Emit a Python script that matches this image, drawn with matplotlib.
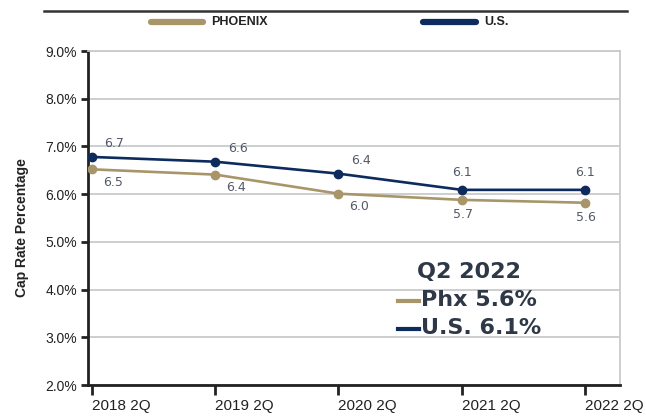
import matplotlib.pyplot as plt
from matplotlib.lines import Line2D
from matplotlib.ticker import FuncFormatter

# Cap rates (%)
periods = ["2018 2Q", "2019 2Q", "2020 2Q", "2021 2Q", "2022 2Q"]
phoenix = [6.52, 6.41, 6.01, 5.88, 5.82]
us = [6.78, 6.68, 6.43, 6.09, 6.09]
phoenix_labels = ["6.5", "6.4", "6.0", "5.7", "5.6"]
us_labels = ["6.7", "6.6", "6.4", "6.1", "6.1"]

tan = "#a8966a"
navy = "#0d2b5c"
lblc = "#535a66"

plt.rcParams['font.family'] = ['Liberation Sans', 'DejaVu Sans']

fig = plt.figure(figsize=(6.46, 4.16), dpi=100)
ax = fig.add_axes([0.1362, 0.0745, 0.8235, 0.8029])

x = list(range(len(periods)))
ax.plot(x, phoenix, color=tan, lw=1.9, marker="o", ms=6, zorder=3)
ax.plot(x, us, color=navy, lw=1.9, marker="o", ms=6, zorder=4)

for i in x:
    if i < 3:
        off_us, ha_us = (9, 5), "left"
        off_ph, ha_ph = (8, -14), "left"
    else:
        off_us, ha_us = (0, 8), "center"
        off_ph, ha_ph = (1, -15), "center"
    ax.annotate(us_labels[i], (i, us[i]), xytext=off_us, textcoords="offset points",
                ha=ha_us, va="bottom", fontsize=9, color=lblc, family="DejaVu Sans")
    ax.annotate(phoenix_labels[i], (i, phoenix[i]), xytext=off_ph, textcoords="offset points",
                ha=ha_ph, va="bottom", fontsize=9, color=lblc, family="DejaVu Sans")

ax.set_xlim(-0.032, 4.284)
ax.set_ylim(2, 9)
ax.set_yticks(range(2, 10))
ax.yaxis.set_major_formatter(FuncFormatter(lambda v, p: f"{v:.1f}%"))
ax.set_xticks(x)
ax.set_xticklabels(periods, ha="left")

ax.tick_params(axis="y", length=5, width=2, direction="out", labelsize=10, colors="#222222", pad=3)
ax.tick_params(axis="x", length=7, width=2, direction="out", labelsize=11, colors="#222222", pad=3)

ax.grid(axis="y", color="#c8cacd", lw=1.3)
ax.set_axisbelow(True)
for s in ["left", "bottom"]:
    ax.spines[s].set_color("#222222")
    ax.spines[s].set_linewidth(2)
for s in ["top", "right"]:
    ax.spines[s].set_color("#c8cacd")
    ax.spines[s].set_linewidth(1.3)

fig.text(22 / 646, 1 - 228 / 416, "Cap Rate Percentage", rotation=90, ha="center", va="center",
         fontsize=10, fontweight="bold", color="#222222")

# top rule and legend
fig.add_artist(Line2D([44 / 646, 627 / 646], [1 - 11 / 416] * 2, color="#333333", lw=1.8))
fig.add_artist(Line2D([151 / 646, 203 / 646], [1 - 22 / 416] * 2, color=tan, lw=4.5, solid_capstyle="round"))
fig.text(211 / 646, 1 - 22 / 416, "PHOENIX", fontsize=9, fontweight="bold", color="#222222", va="center")
fig.add_artist(Line2D([423 / 646, 476 / 646], [1 - 22 / 416] * 2, color=navy, lw=4.5, solid_capstyle="round"))
fig.text(484 / 646, 1 - 22 / 416, "U.S.", fontsize=9, fontweight="bold", color="#222222", va="center")

# Q2 2022 callout
tc = "#2e3846"
fig.text(417 / 646, 1 - 272 / 416, "Q2 2022", fontsize=16, fontweight="bold", color=tc,
         va="center", family="DejaVu Sans")
fig.text(421 / 646, 1 - 300 / 416, f"Phx {phoenix_labels[-1]}%", fontsize=16, fontweight="bold", color=tc,
         va="center", family="DejaVu Sans")
fig.text(421 / 646, 1 - 328 / 416, f"U.S. {us_labels[-1]}%", fontsize=16, fontweight="bold", color=tc,
         va="center", family="DejaVu Sans")
fig.add_artist(Line2D([398 / 646, 419 / 646], [1 - 301 / 416] * 2, color=tan, lw=3))
fig.add_artist(Line2D([398 / 646, 419 / 646], [1 - 329 / 416] * 2, color=navy, lw=3))

fig.savefig("out.png", dpi=100)
